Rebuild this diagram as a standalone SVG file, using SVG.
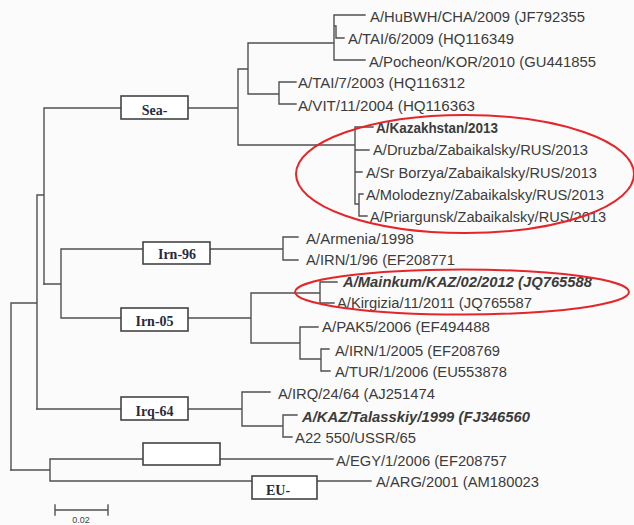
<svg xmlns="http://www.w3.org/2000/svg" width="634" height="525" viewBox="0 0 634 525">
<style>
.bg{fill:#fbfbfb}
.br{fill:none;stroke:#505050;stroke-width:1.4;stroke-linecap:square}
.box{fill:#ffffff;stroke:#444;stroke-width:1.6}
.lf{font-family:"Liberation Sans",Arial,sans-serif;font-size:14px;fill:#3c3c3c}
.b{font-weight:bold}
.bi{font-weight:bold;font-style:italic}
.bl{font-family:"Liberation Serif","Times New Roman",serif;font-size:14px;font-weight:bold;fill:#2a2a3a;text-anchor:middle}
.ring{fill:none;stroke:#e4262a;stroke-width:2}
.sc{font-family:"Liberation Sans",Arial,sans-serif;font-size:9px;fill:#444;text-anchor:middle}
</style>
<rect class="bg" x="0" y="0" width="634" height="525"/>
<g id="connectors">
<path class="br" d="M11,303V470 M11,303H37 M37,195V409 M37,195H44 M44,108V284 M44,108H121 M188,108H238 M238,69V145 M238,69H248 M248,43V94 M248,43H334 M334,15V60 M334,15H365 M334,26H336 M336,26V38 M336,38H344 M334,60H365 M248,94H279 M279,82V104 M279,82H296 M279,104H296 M238,145H355 M355,127V204 M355,127H373 M355,150H369 M355,172H362 M355,204H359 M359,194V216 M359,194H363 M359,216H367"/>
<path class="br" d="M44,284H61 M61,249V318 M61,249H143 M210,249H283 M283,237V260 M283,237H298 M283,260H298 M61,318H121 M188,318H251 M251,293V343 M251,293H320 M320,282V303 M320,282H337 M320,303H334 M251,343H300 M300,327V359 M300,327H318 M300,359H321 M321,349V371 M321,349H329 M321,371H330"/>
<path class="br" d="M37,409H121 M188,409H242 M242,392V426 M242,392H270 M242,426H283 M283,415V437 M283,415H297 M283,437H292"/>
<path class="br" d="M11,470H50 M50,459V481 M50,459H143 M220,459H333 M50,481H252 M317,481H371"/>
</g>
<g id="box-sea"><rect class="box" x="121" y="96" width="67" height="23"/><text class="bl" x="154.5" y="115">Sea-</text></g>
<g id="box-irn96"><rect class="box" x="143" y="242" width="67" height="22"/><text class="bl" x="177" y="259">Irn-96</text></g>
<g id="box-irn05"><rect class="box" x="121" y="308" width="67" height="23"/><text class="bl" x="154.5" y="326">Irn-05</text></g>
<g id="box-irq64"><rect class="box" x="121" y="397" width="67" height="23"/><text class="bl" x="154.5" y="416">Irq-64</text></g>
<g id="box-empty"><rect class="box" x="143" y="443" width="77" height="22"/></g>
<g id="box-eu"><rect class="box" x="252" y="476" width="65" height="23"/><text class="bl" x="278" y="495">EU-</text></g>
<g id="leaf-hubwh"><text class="lf" x="370" y="22" textLength="215" lengthAdjust="spacingAndGlyphs">A/HuBWH/CHA/2009 (JF792355</text></g>
<g id="leaf-tai6"><text class="lf" x="348" y="44" textLength="166" lengthAdjust="spacingAndGlyphs">A/TAI/6/2009 (HQ116349</text></g>
<g id="leaf-pocheon"><text class="lf" x="369" y="67" textLength="227" lengthAdjust="spacingAndGlyphs">A/Pocheon/KOR/2010 (GU441855</text></g>
<g id="leaf-tai7"><text class="lf" x="298" y="88" textLength="167" lengthAdjust="spacingAndGlyphs">A/TAI/7/2003 (HQ116312</text></g>
<g id="leaf-vit"><text class="lf" x="298" y="111" textLength="177" lengthAdjust="spacingAndGlyphs">A/VIT/11/2004 (HQ116363</text></g>
<g id="leaf-kazakhstan"><text class="lf b" x="376" y="133" textLength="122" lengthAdjust="spacingAndGlyphs">A/Kazakhstan/2013</text></g>
<g id="leaf-druzba"><text class="lf" x="373" y="155" textLength="215" lengthAdjust="spacingAndGlyphs">A/Druzba/Zabaikalsky/RUS/2013</text></g>
<g id="leaf-srborzya"><text class="lf" x="366" y="178" textLength="231" lengthAdjust="spacingAndGlyphs">A/Sr Borzya/Zabaikalsky/RUS/2013</text></g>
<g id="leaf-molodezny"><text class="lf" x="366" y="200" textLength="238" lengthAdjust="spacingAndGlyphs">A/Molodezny/Zabaikalsky/RUS/2013</text></g>
<g id="leaf-priargunsk"><text class="lf" x="370" y="222" textLength="236" lengthAdjust="spacingAndGlyphs">A/Priargunsk/Zabaikalsky/RUS/2013</text></g>
<g id="leaf-armenia"><text class="lf" x="306" y="244" textLength="108" lengthAdjust="spacingAndGlyphs">A/Armenia/1998</text></g>
<g id="leaf-irn96"><text class="lf" x="306" y="265" textLength="149" lengthAdjust="spacingAndGlyphs">A/IRN/1/96 (EF208771</text></g>
<g id="leaf-mainkum"><text class="lf bi" x="343" y="287" textLength="249" lengthAdjust="spacingAndGlyphs">A/Mainkum/KAZ/02/2012 (JQ765588</text></g>
<g id="leaf-kirgizia"><text class="lf" x="337" y="308" textLength="195" lengthAdjust="spacingAndGlyphs">A/Kirgizia/11/2011 (JQ765587</text></g>
<g id="leaf-pak5"><text class="lf" x="322" y="332" textLength="168" lengthAdjust="spacingAndGlyphs">A/PAK5/2006 (EF494488</text></g>
<g id="leaf-irn2005"><text class="lf" x="335" y="356" textLength="165" lengthAdjust="spacingAndGlyphs">A/IRN/1/2005 (EF208769</text></g>
<g id="leaf-tur"><text class="lf" x="335" y="377" textLength="172" lengthAdjust="spacingAndGlyphs">A/TUR/1/2006 (EU553878</text></g>
<g id="leaf-irq"><text class="lf" x="278" y="399" textLength="157" lengthAdjust="spacingAndGlyphs">A/IRQ/24/64 (AJ251474</text></g>
<g id="leaf-kaztal"><text class="lf bi" x="302" y="422" textLength="228" lengthAdjust="spacingAndGlyphs">A/KAZ/Talasskiy/1999 (FJ346560</text></g>
<g id="leaf-a22"><text class="lf" x="295" y="443" textLength="121" lengthAdjust="spacingAndGlyphs">A22 550/USSR/65</text></g>
<g id="leaf-egy"><text class="lf" x="336" y="466" textLength="171" lengthAdjust="spacingAndGlyphs">A/EGY/1/2006 (EF208757</text></g>
<g id="leaf-arg"><text class="lf" x="376" y="487" textLength="163" lengthAdjust="spacingAndGlyphs">A/ARG/2001 (AM180023</text></g>
<g id="highlights">
<ellipse class="ring" cx="465" cy="174" rx="169" ry="59"/>
<ellipse class="ring" cx="462" cy="292" rx="167" ry="22.5"/>
</g>
<g id="scale">
<path class="br" d="M55,510H108 M55,505V515 M108,505V515"/>
<text class="sc" x="81" y="523">0.02</text>
</g>
</svg>
